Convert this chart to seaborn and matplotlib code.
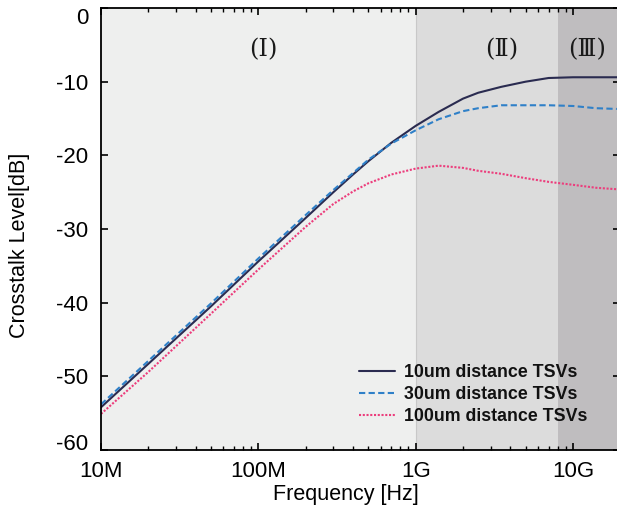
import matplotlib
matplotlib.use("Agg")
import matplotlib.pyplot as plt
import numpy as np
import pandas as pd
import seaborn as sns

# frequency points [Hz] and crosstalk level [dB]
freq = [1e7, 2e7, 5e7, 1e8, 2e8, 3e8, 4e8, 5e8, 7e8, 1e9, 1.4e9, 2e9, 2.5e9,
        3.5e9, 5e9, 7e9, 1e10, 1.4e10, 1.9e10]
xt_10um = [-54.2, -48.3, -40.5, -34.4, -28.5, -25.0, -22.6, -20.8, -18.3, -16.0, -14.1,
           -12.3, -11.5, -10.7, -10.0, -9.5, -9.4, -9.4, -9.4]
xt_30um = [-53.8, -47.9, -40.1, -34.0, -28.1, -24.7, -22.4, -20.6, -18.4, -16.6, -15.1,
           -14.0, -13.6, -13.2, -13.2, -13.2, -13.3, -13.6, -13.7]
xt_100um = [-55.1, -49.4, -41.5, -35.5, -29.7, -26.6, -24.9, -23.8, -22.6, -21.8, -21.4,
            -21.7, -22.1, -22.5, -23.1, -23.6, -24.0, -24.4, -24.6]

labels = ["10um distance TSVs", "30um distance TSVs", "100um distance TSVs"]
colors = ["#2a2b50", "#2f80c8", "#ec3d7c"]
styles = ["-", (0, (3, 1.6)), (0, (1, 0.8))]

x_ticks = [1e7, 1e8, 1e9, 1e10]
x_ticklabels = ["10M", "100M", "1G", "10G"]
y_ticks = [0, -10, -20, -30, -40, -50, -60]
regions = [(1e7, 1e9, "#eeefee", "(Ⅰ)", 1.07e8),
           (1e9, 8e9, "#dcdcdc", "(Ⅱ)", 3.5e9),
           (8e9, 2e10, "#bfbdbf", "(Ⅲ)", 1.23e10)]

sns.set_theme(style="ticks")
plt.rcParams['font.family'] = ['Liberation Sans', 'DejaVu Sans']
plt.rcParams['axes.unicode_minus'] = False
plt.rcParams['text.color'] = 'black'
plt.rcParams['axes.labelcolor'] = 'black'

fig = plt.figure(figsize=(6.17, 5.14), dpi=100)
ax = fig.add_axes([0.1637, 0.1245, 0.8417, 0.8599])

for lo, hi, c, txt, xc in regions:
    ax.axvspan(lo, hi, color=c, lw=0, zorder=0)
    ax.text(xc, -5.6, txt, ha='center', va='center', fontsize=17.5,
            family=['DejaVu Serif', 'Noto Sans CJK JP'], color='#1a1a1a')
ax.axvline(1e9, color='#c8c8c8', lw=0.8, zorder=0.5)

df = pd.DataFrame({"freq": freq, labels[0]: xt_10um, labels[1]: xt_30um, labels[2]: xt_100um})
for lab, c, ls in zip(labels, colors, styles):
    sns.lineplot(data=df, x="freq", y=lab, ax=ax, color=c, label=lab, lw=1.5)
    ax.lines[-1].set_linestyle(ls)

ax.set_xscale('log')
ax.set_xlim(1e7, 2e10)
ax.set_ylim(-60, 0)
ax.set_xticks(x_ticks)
ax.set_xticklabels(x_ticklabels)
ax.set_yticks(y_ticks)
ax.set_yticklabels([str(v) for v in y_ticks])
ax.tick_params(which='both', direction='in', top=True, right=True, colors='black')
ax.tick_params(which='major', length=5, width=1.2, labelsize=16)
ax.tick_params(which='minor', length=3, width=1.0)
ax.tick_params(axis='x', pad=8)
ax.tick_params(axis='y', pad=9)
ylab = ax.get_yticklabels()
ylab[0].set_va('top')
ylab[-1].set_va('baseline')
for s in ax.spines.values():
    s.set_linewidth(1.3)
    s.set_color('black')

ax.set_xlabel("Frequency [Hz]", fontsize=15.5)
ax.set_ylabel("Crosstalk Level[dB]", fontsize=15.5)
ax.xaxis.set_label_coords(0.472, -0.078)
ax.yaxis.set_label_coords(-0.136, 0.464)

leg = ax.legend(loc='upper left', bbox_to_anchor=(0.497, 0.195), frameon=False,
                prop={'weight': 'bold', 'size': 12.8}, handlelength=2.0,
                handletextpad=0.55, labelspacing=0.3, borderpad=0, borderaxespad=0)
for t in leg.get_texts():
    t.set_color('#111111')

fig.savefig("out.png", dpi=100)
